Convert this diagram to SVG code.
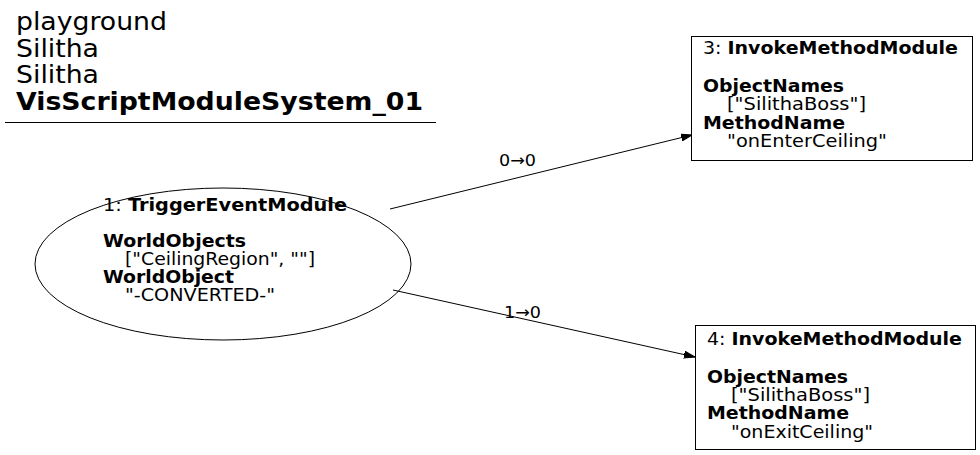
<svg xmlns="http://www.w3.org/2000/svg" width="980" height="455" viewBox="0 0 980 455">
<defs>
<marker id="arr" markerWidth="11" markerHeight="8" refX="11" refY="4" orient="auto" markerUnits="userSpaceOnUse">
<polygon points="0,0.5 11,4 0,7.5" fill="#000" stroke="#000"/>
</marker>
</defs>
<style>
text{font-family:"DejaVu Sans",sans-serif;fill:#000}
.t{font-size:25px}
.n{font-size:17px}
.b{font-weight:bold}
.e{font-size:16px}
.shape{fill:none;stroke:#000;stroke-width:1}
.edge{fill:none;stroke:#000;stroke-width:1;marker-end:url(#arr)}
</style>
<rect width="980" height="455" fill="#fff"/>
<g id="title">
<text class="t" x="16" y="30" textLength="151" lengthAdjust="spacingAndGlyphs">playground</text>
<text class="t" x="16" y="56.5" textLength="83" lengthAdjust="spacingAndGlyphs">Silitha</text>
<text class="t" x="16" y="83" textLength="83" lengthAdjust="spacingAndGlyphs">Silitha</text>
<text class="t b" x="16" y="110" textLength="407" lengthAdjust="spacingAndGlyphs">VisScriptModuleSystem_01</text>
<line x1="5" y1="122.5" x2="436" y2="122.5" stroke="#000"/>
</g>
<g id="connectors">
<line class="edge" x1="390" y1="209" x2="692" y2="135"/>
<text class="e" x="499" y="166" textLength="37" lengthAdjust="spacingAndGlyphs">0→0</text>
<line class="edge" x1="393" y1="290" x2="695" y2="357"/>
<text class="e" x="504" y="318" textLength="37" lengthAdjust="spacingAndGlyphs">1→0</text>
</g>
<g id="node1">
<ellipse class="shape" cx="223" cy="264" rx="188" ry="76"/>
<text class="n" x="103" y="210.5" textLength="244" lengthAdjust="spacingAndGlyphs">1: <tspan class="b">TriggerEventModule</tspan></text>
<text class="n b" x="103" y="246.5" textLength="143" lengthAdjust="spacingAndGlyphs">WorldObjects</text>
<text class="n" x="125" y="264.5" textLength="190" lengthAdjust="spacingAndGlyphs">["CeilingRegion", ""]</text>
<text class="n b" x="103" y="283" textLength="131" lengthAdjust="spacingAndGlyphs">WorldObject</text>
<text class="n" x="125" y="301" textLength="150" lengthAdjust="spacingAndGlyphs">"-CONVERTED-"</text>
</g>
<g id="node3">
<rect class="shape" x="691.5" y="36.5" width="281" height="124"/>
<text class="n" x="703" y="54" textLength="255" lengthAdjust="spacingAndGlyphs">3: <tspan class="b">InvokeMethodModule</tspan></text>
<text class="n b" x="703" y="92" textLength="141" lengthAdjust="spacingAndGlyphs">ObjectNames</text>
<text class="n" x="727" y="110" textLength="139" lengthAdjust="spacingAndGlyphs">["SilithaBoss"]</text>
<text class="n b" x="703" y="128.5" textLength="142" lengthAdjust="spacingAndGlyphs">MethodName</text>
<text class="n" x="727" y="147" textLength="160" lengthAdjust="spacingAndGlyphs">"onEnterCeiling"</text>
</g>
<g id="node4">
<rect class="shape" x="695.5" y="325.5" width="280" height="124"/>
<text class="n" x="707" y="345" textLength="255" lengthAdjust="spacingAndGlyphs">4: <tspan class="b">InvokeMethodModule</tspan></text>
<text class="n b" x="707" y="382.5" textLength="141" lengthAdjust="spacingAndGlyphs">ObjectNames</text>
<text class="n" x="731" y="400.5" textLength="139" lengthAdjust="spacingAndGlyphs">["SilithaBoss"]</text>
<text class="n b" x="707" y="419" textLength="142" lengthAdjust="spacingAndGlyphs">MethodName</text>
<text class="n" x="731" y="437.5" textLength="142" lengthAdjust="spacingAndGlyphs">"onExitCeiling"</text>
</g>
</svg>
